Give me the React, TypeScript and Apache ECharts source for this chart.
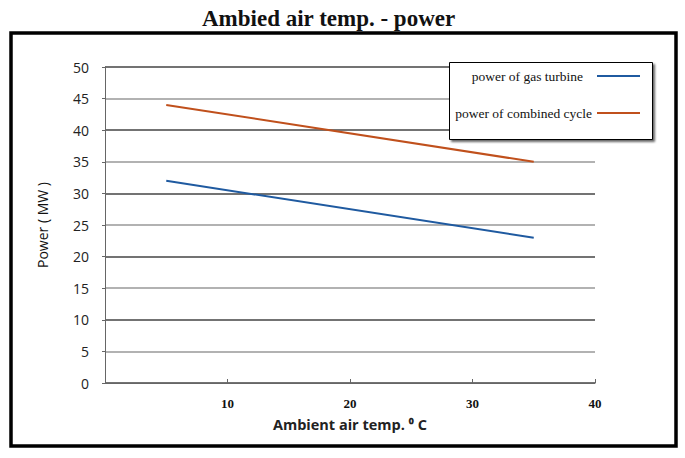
import React, { useEffect, useRef } from "react";
import * as echarts from "echarts";

const titleText = "Ambied air temp. - power";
const xAxisName = "Ambient air temp. \u2070 C";
const yAxisName = "Power ( MW )";
const seriesNames = ["power of gas turbine", "power of combined cycle"];
const gasTurbine: [number, number][] = [
  [5, 32],
  [35, 23],
];
const combinedCycle: [number, number][] = [
  [5, 44],
  [35, 35],
];
const seriesColors = ["#1f5aa0", "#c0501c"];

const legendText = {
  fontFamily: "Liberation Serif, serif",
  fontSize: 13.5,
  color: "#111",
};

export default function App() {
  const ref = useRef<HTMLDivElement>(null);
  useEffect(() => {
    if (!ref.current) return;
    const chart = echarts.init(ref.current, null, { renderer: "svg" });
    chart.setOption({
      animation: false,
      backgroundColor: "#ffffff",
      title: {
        text: titleText,
        left: 197,
        top: 2,
        textStyle: {
          fontFamily: "Liberation Serif, serif",
          fontWeight: "bold",
          fontSize: 23,
          color: "#111",
        },
      },
      graphic: [
        {
          type: "rect",
          shape: { x: 11, y: 33, width: 665, height: 413 },
          style: { fill: "none", stroke: "#000", lineWidth: 3.5 },
          silent: true,
          z: 1,
        },
        {
          type: "rect",
          shape: { x: 449.5, y: 62.5, width: 203, height: 77 },
          style: {
            fill: "#fff",
            stroke: "#000",
            lineWidth: 1,
            shadowColor: "rgba(0,0,0,0.6)",
            shadowOffsetX: 2,
            shadowOffsetY: 2,
            shadowBlur: 2,
          },
          silent: true,
          z: 3,
        },
      ],
      grid: { left: 105, right: 90, top: 67, bottom: 75 },
      legend: [
        {
          data: [seriesNames[0]],
          right: 45,
          top: 69,
          align: "right",
          padding: 0,
          icon: "rect",
          itemWidth: 43,
          itemHeight: 2,
          z: 5,
          textStyle: { ...legendText, padding: [0, 9, 0, 0] },
        },
        {
          data: [seriesNames[1]],
          right: 45,
          top: 106,
          align: "right",
          padding: 0,
          icon: "rect",
          itemWidth: 43,
          itemHeight: 2,
          z: 5,
          textStyle: { ...legendText },
        },
      ],
      xAxis: {
        type: "value",
        min: 0,
        max: 40,
        interval: 10,
        name: xAxisName,
        nameLocation: "middle",
        nameGap: 34,
        nameTextStyle: {
          fontFamily: "Open Sans, sans-serif",
          fontSize: 14.5,
          fontWeight: "bold",
          color: "#222",
        },
        axisLine: { show: true, lineStyle: { color: "#666", width: 1 } },
        axisTick: { show: true, inside: true, length: 4, lineStyle: { color: "#666" } },
        axisLabel: {
          showMinLabel: false,
          margin: 14,
          fontFamily: "Liberation Serif, serif",
          fontWeight: "bold",
          fontSize: 13,
          color: "#111",
        },
        splitLine: { show: false },
      },
      yAxis: {
        type: "value",
        min: 0,
        max: 50,
        interval: 5,
        name: yAxisName,
        nameLocation: "middle",
        nameGap: 56,
        nameTextStyle: {
          fontFamily: "Open Sans, sans-serif",
          fontSize: 14,
          color: "#111",
        },
        axisLine: { show: true, lineStyle: { color: "#666", width: 1 } },
        axisTick: { show: true, length: 3, lineStyle: { color: "#666" } },
        axisLabel: {
          margin: 16,
          fontFamily: "Open Sans, sans-serif",
          fontSize: 14,
          color: "#222",
        },
        splitLine: {
          show: true,
          lineStyle: { color: ["#444", "#999"], width: 1.5 },
        },
      },
      series: [
        {
          name: seriesNames[0],
          type: "line",
          data: gasTurbine,
          symbol: "none",
          lineStyle: { color: seriesColors[0], width: 2 },
          itemStyle: { color: seriesColors[0] },
        },
        {
          name: seriesNames[1],
          type: "line",
          data: combinedCycle,
          symbol: "none",
          lineStyle: { color: seriesColors[1], width: 2 },
          itemStyle: { color: seriesColors[1] },
        },
      ],
    });
    return () => chart.dispose();
  }, []);
  return (
    <div
      ref={ref}
      style={{ position: "fixed", left: 0, top: 0, width: 685, height: 458 }}
    />
  );
}
